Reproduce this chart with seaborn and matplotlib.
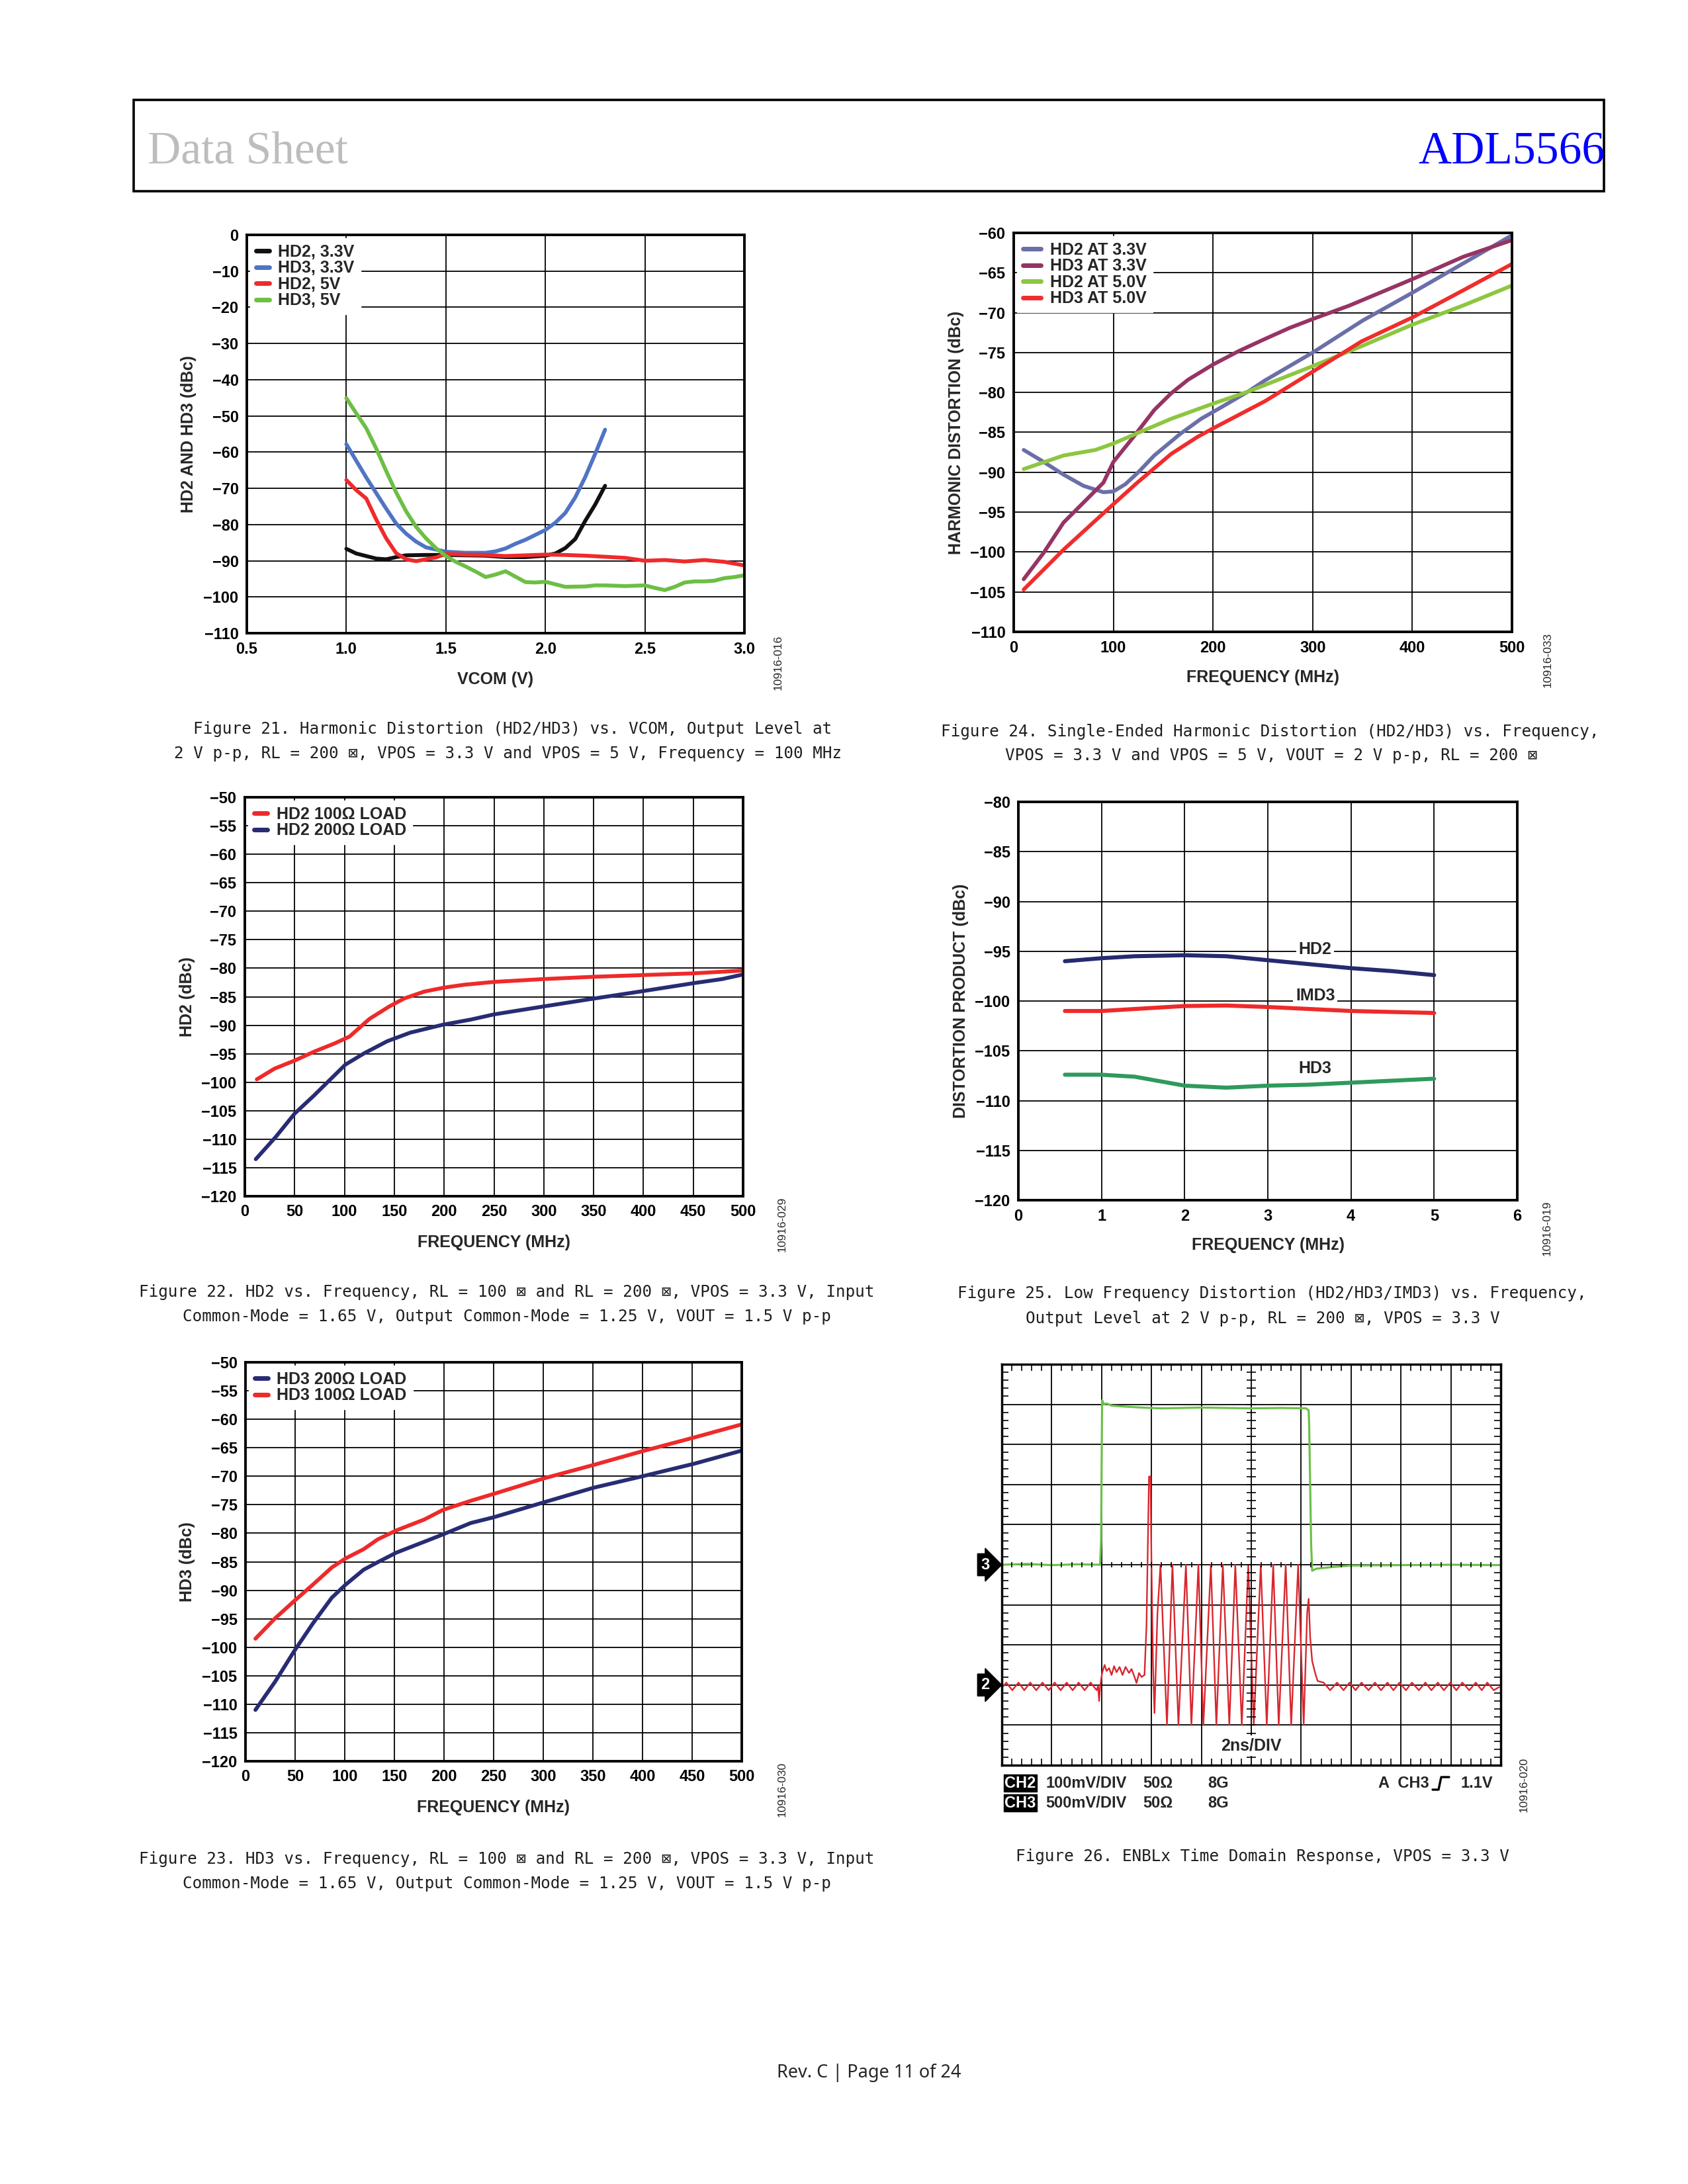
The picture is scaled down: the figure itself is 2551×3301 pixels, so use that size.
import numpy as np
import pandas as pd
import matplotlib
matplotlib.use("Agg")
import matplotlib.pyplot as plt
from matplotlib.patches import Rectangle
from matplotlib.lines import Line2D
import seaborn as sns

# ---------------- data ----------------
# Figure 21: HD2/HD3 vs VCOM
vcom_hd2_33_x = [1.0, 1.05, 1.1, 1.15, 1.2, 1.25, 1.3, 1.4, 1.5, 1.6, 1.7, 1.8, 1.9, 2.0, 2.05, 2.1, 2.15, 2.2, 2.25, 2.3]
vcom_hd2_33_y = [-86.7, -88.0, -88.7, -89.4, -89.6, -89.0, -88.5, -88.4, -88.4, -88.5, -88.6, -89.0, -89.0, -88.6, -88.0, -86.5, -84.0, -79.0, -74.5, -69.3]
vcom_hd3_33_x = [1.0, 1.1, 1.2, 1.25, 1.3, 1.35, 1.4, 1.5, 1.6, 1.7, 1.75, 1.8, 1.85, 1.9, 2.0, 2.05, 2.1, 2.15, 2.2, 2.25, 2.3]
vcom_hd3_33_y = [-57.8, -67.0, -75.6, -79.7, -82.5, -84.7, -86.3, -87.5, -87.8, -87.8, -87.4, -86.6, -85.3, -84.2, -81.5, -79.5, -76.8, -72.5, -66.9, -60.5, -53.8]
vcom_hd2_5_x = [1.0, 1.05, 1.1, 1.15, 1.2, 1.25, 1.3, 1.35, 1.4, 1.45, 1.5, 1.6, 1.7, 1.8, 1.9, 2.0, 2.1, 2.2, 2.3, 2.4, 2.5, 2.6, 2.7, 2.8, 2.9, 3.0]
vcom_hd2_5_y = [-67.7, -70.5, -72.8, -78.6, -83.8, -87.9, -89.6, -90.1, -89.6, -89.1, -88.1, -88.3, -88.4, -88.7, -88.5, -88.3, -88.4, -88.6, -88.9, -89.2, -90.0, -89.8, -90.2, -89.8, -90.3, -91.3]
vcom_hd3_5_x = [1.0, 1.05, 1.1, 1.15, 1.2, 1.25, 1.3, 1.35, 1.4, 1.45, 1.5, 1.55, 1.6, 1.65, 1.7, 1.75, 1.8, 1.85, 1.9, 1.95, 2.0, 2.05, 2.1, 2.2, 2.25, 2.3, 2.4, 2.5, 2.55, 2.6, 2.65, 2.7, 2.75, 2.8, 2.85, 2.9, 2.95, 3.0]
vcom_hd3_5_y = [-45.1, -49.3, -53.4, -59.0, -65.2, -71.1, -76.3, -80.6, -83.8, -86.5, -88.7, -90.3, -91.6, -93.0, -94.5, -93.8, -92.9, -94.4, -95.9, -96.0, -95.8, -96.5, -97.2, -97.1, -96.8, -96.8, -97.0, -96.8, -97.5, -98.1, -97.2, -96.0, -95.7, -95.7, -95.5, -94.8, -94.5, -94.0]
vcom_names = ["HD2, 3.3V", "HD3, 3.3V", "HD2, 5V", "HD3, 5V"]
vcom_colors = ["#111111", "#4f74c4", "#ee2b2b", "#6dbe45"]
vcom_ticks = [0.5, 1.0, 1.5, 2.0, 2.5, 3.0]
vcom_ticklabels = ["0.5", "1.0", "1.5", "2.0", "2.5", "3.0"]

# Figure 24: single-ended HD2/HD3 vs frequency
se_hd2_33_x = [10, 30, 50, 70, 90, 100, 112, 125, 141, 167, 188, 209, 235, 252, 300, 350, 400, 450, 500]
se_hd2_33_y = [-87.2, -88.7, -90.3, -91.7, -92.5, -92.4, -91.5, -90.0, -87.9, -85.2, -83.3, -81.8, -79.9, -78.5, -75.0, -71.0, -67.5, -63.9, -60.3]
se_hd3_33_x = [10, 30, 50, 90, 100, 120, 141, 158, 175, 200, 226, 252, 277, 300, 337, 400, 451, 500]
se_hd3_33_y = [-103.4, -100.1, -96.3, -91.3, -88.7, -85.6, -82.2, -80.1, -78.4, -76.5, -74.8, -73.3, -71.9, -70.8, -69.1, -65.8, -63.0, -60.9]
se_hd2_5_x = [10, 50, 82, 100, 124, 158, 200, 235, 300, 349, 400, 451, 500]
se_hd2_5_y = [-89.6, -87.9, -87.2, -86.4, -85.1, -83.3, -81.4, -79.9, -76.7, -74.2, -71.5, -69.1, -66.6]
se_hd3_5_x = [10, 50, 100, 124, 158, 184, 200, 252, 300, 349, 400, 451, 500]
se_hd3_5_y = [-104.7, -99.7, -94.0, -91.3, -87.7, -85.6, -84.5, -81.1, -77.4, -73.6, -70.6, -67.2, -63.9]
se_names = ["HD2 AT 3.3V", "HD3 AT 3.3V", "HD2 AT 5.0V", "HD3 AT 5.0V"]
se_colors = ["#6b6fa8", "#963463", "#8dc63f", "#ef2d2d"]

# Figure 22: HD2 vs frequency
hd2_100_x = [12, 30, 50, 70, 90, 105, 125, 145, 160, 180, 200, 220, 250, 300, 350, 400, 450, 500]
hd2_100_y = [-99.5, -97.6, -96.2, -94.6, -93.2, -92.0, -88.9, -86.7, -85.3, -84.1, -83.4, -82.9, -82.4, -81.9, -81.5, -81.2, -80.9, -80.4]
hd2_200_x = [11, 31, 50, 69, 87, 101, 120, 143, 166, 199, 227, 250, 300, 351, 400, 451, 479, 500]
hd2_200_y = [-113.5, -109.6, -105.5, -102.4, -99.3, -96.9, -94.9, -92.8, -91.3, -89.9, -89.0, -88.1, -86.7, -85.3, -84.0, -82.6, -81.9, -81.1]
hd2_names = ["HD2 100\u03a9 LOAD", "HD2 200\u03a9 LOAD"]

# Figure 23: HD3 vs frequency
hd3_200_x = [10, 30, 49, 68, 87, 101, 119, 133, 152, 180, 199, 227, 250, 300, 351, 400, 452, 500]
hd3_200_y = [-111.0, -106.0, -100.7, -95.8, -91.3, -89.0, -86.4, -85.1, -83.4, -81.5, -80.2, -78.2, -77.2, -74.6, -72.0, -70.0, -67.8, -65.5]
hd3_100_x = [10, 30, 49, 68, 87, 101, 119, 133, 152, 180, 199, 227, 250, 300, 351, 400, 452, 500]
hd3_100_y = [-98.5, -94.9, -91.9, -89.0, -86.0, -84.4, -82.8, -81.1, -79.5, -77.6, -75.9, -74.3, -73.1, -70.4, -68.0, -65.6, -63.2, -60.9]
hd3_names = ["HD3 200\u03a9 LOAD", "HD3 100\u03a9 LOAD"]
load_colors_22 = ["#ee2a2a", "#282c74"]
load_colors_23 = ["#282c74", "#ee2a2a"]
freq_ticks = [0, 50, 100, 150, 200, 250, 300, 350, 400, 450, 500]

# Figure 25: low frequency distortion
lf_x = [0.56, 1.0, 1.4, 2.0, 2.5, 3.0, 3.5, 4.0, 4.5, 5.0]
lf_hd2 = [-96.0, -95.7, -95.5, -95.4, -95.5, -95.9, -96.3, -96.7, -97.0, -97.4]
lf_imd3 = [-101.0, -101.0, -100.8, -100.5, -100.45, -100.6, -100.8, -101.0, -101.1, -101.2]
lf_hd3 = [-107.4, -107.4, -107.6, -108.5, -108.7, -108.5, -108.4, -108.2, -108.0, -107.8]
lf_names = ["HD2", "IMD3", "HD3"]
lf_colors = ["#262a70", "#ee2a2a", "#2e9a5c"]
lf_label_y = [-94.8, -99.5, -106.8]

# Figure 26: scope traces (divisions)
ch3_x = [0.03, 0.5, 1.0, 1.5, 1.97, 1.99, 2.01, 2.05, 2.1, 2.2, 2.4, 2.8, 3.2, 4.0, 5.0, 5.6, 6.1, 6.15, 6.16,
         6.2, 6.22, 6.3, 6.6, 7.0, 8.0, 9.0, 9.97]
ch3_y = [5.0, 5.02, 4.99, 5.01, 5.0, 5.6, 9.1, 9.0, 9.02, 8.97, 8.95, 8.92, 8.9, 8.92, 8.9, 8.91, 8.9, 8.85, 8.5,
         5.5, 4.85, 4.9, 4.94, 4.98, 4.99, 5.0, 4.99]
ch2_x = [0.03, 0.09, 0.21, 0.335, 0.45, 0.57, 0.69, 0.815, 0.94, 1.06, 1.18, 1.30, 1.42, 1.54, 1.66, 1.78, 1.90,
         1.93, 1.95, 1.97, 2.01, 2.06, 2.1, 2.15, 2.2, 2.25, 2.3, 2.36, 2.42, 2.48, 2.55, 2.6, 2.66, 2.7, 2.75,
         2.8, 2.86, 2.9, 2.92, 2.95, 2.98, 3.0, 3.03, 3.06, 3.12,
         3.18, 3.31, 3.42, 3.54, 3.69, 3.80, 3.94, 4.04, 4.19, 4.30, 4.43, 4.56, 4.68, 4.81, 4.94, 5.05,
         5.19, 5.31, 5.44, 5.55, 5.69, 5.80, 5.94, 6.05,
         6.12, 6.15, 6.18, 6.22, 6.28, 6.33,
         6.45, 6.58, 6.72, 6.85, 6.97, 7.09, 7.21, 7.35, 7.48, 7.60, 7.73, 7.85, 7.97, 8.10, 8.22, 8.36,
         8.49, 8.61, 8.74, 8.86, 8.99, 9.11, 9.23, 9.37, 9.50, 9.62, 9.73, 9.86, 9.97]
ch2_y = [1.97, 2.06, 1.87, 2.06, 1.87, 2.06, 1.87, 2.06, 1.87, 2.06, 1.87, 2.06, 1.87, 2.06, 1.87, 2.06, 1.87,
         1.98, 1.6, 1.95, 2.3, 2.5, 2.35, 2.42, 2.25, 2.47, 2.32, 2.45, 2.25, 2.45, 2.3, 2.4, 2.2, 2.05, 2.3,
         2.2, 2.25, 3.5, 5.0, 7.2, 7.2, 5.0, 2.5, 1.3, 3.8,
         5.0, 1.0, 5.0, 1.0, 5.0, 1.0, 5.0, 1.0, 5.0, 1.0, 5.0, 1.0, 5.0, 1.0, 5.0, 1.0,
         5.0, 1.0, 5.0, 1.0, 5.0, 1.0, 5.0, 1.0,
         3.8, 4.15, 3.2, 2.6, 2.3, 2.1,
         2.06, 1.87, 2.06, 1.87, 2.06, 1.87, 2.06, 1.87, 2.06, 1.87, 2.06, 1.87, 2.06, 1.87, 2.06, 1.87,
         2.06, 1.87, 2.06, 1.87, 2.06, 1.87, 2.06, 1.87, 2.06, 1.87, 2.06, 1.87, 1.95]

# ---------------- page ----------------
W, H = 2551, 3301
sns.set_theme(style="white")
plt.rcParams["font.family"] = ["Liberation Sans", "DejaVu Sans"]
plt.rcParams["axes.unicode_minus"] = True

fig = plt.figure(figsize=(W / 100, H / 100), dpi=100)
fig.patch.set_facecolor("white")


def rect(l, t, r, b):
    return [l / W, 1 - b / H, (r - l) / W, (b - t) / H]


def ptext(x, y, s, **kw):
    return fig.text(x / W, 1 - y / H, s, **kw)


def style(ax, xlim, xticks, ylim, yticks, xlabels=None):
    ax.set_xlim(xlim)
    ax.set_ylim(ylim)
    ax.set_xticks(xticks)
    if xlabels is not None:
        ax.set_xticklabels(xlabels)
    ax.set_yticks(yticks)
    ax.set_xlabel("")
    ax.set_ylabel("")
    ax.grid(True, color="black", lw=1.3)
    ax.set_axisbelow(True)
    ax.tick_params(length=0, pad=9, labelsize=17, colors="black")
    for lab in ax.get_xticklabels() + ax.get_yticklabels():
        lab.set_fontweight("bold")
    for s in ax.spines.values():
        s.set_visible(True)
        s.set_linewidth(2.8)
        s.set_color("black")


def long_df(xs, ys, names):
    parts = [pd.DataFrame({"x": x, "y": y, "trace": n}) for x, y, n in zip(xs, ys, names)]
    return pd.concat(parts, ignore_index=True)


def add_legend(ax, names, hl=0.8):
    leg = ax.legend(ax.lines[:len(names)], names, loc="upper left", frameon=True, fancybox=False,
                    framealpha=1, edgecolor="white", facecolor="white", borderaxespad=0.2,
                    borderpad=0.35, handlelength=hl, handletextpad=0.55, labelspacing=0.02,
                    prop=dict(weight="bold", size=18))
    for h in leg.legend_handles:
        h.set_linewidth(5)
    return leg


def axis_texts(box, xlabel, ylabel, ylab_x, xlab_y, code, code_xy):
    l, t, r, b = box
    ptext((l + r) / 2, xlab_y, xlabel, ha="center", va="center", size=18, weight="bold")
    ptext(ylab_x, (t + b) / 2, ylabel, ha="center", va="center", size=18, weight="bold", rotation=90)
    ptext(code_xy[0], code_xy[1], code, ha="center", va="center", size=12.5, rotation=90)


LW = 4.2

# header
fig.add_artist(Rectangle((202 / W, 1 - 289 / H), (2424 - 202) / W, (289 - 151) / H,
                         transform=fig.transFigure, fill=False, ec="black", lw=2.6))
ptext(223, 248, "Data Sheet", ha="left", va="baseline", size=50, color="#bdbdbd",
      family=["Liberation Serif", "DejaVu Serif"])
ptext(2425, 248, "ADL5566", ha="right", va="baseline", size=50, color="#0000ff",
      family=["Liberation Serif", "DejaVu Serif"])

# ---- Figure 21
box21 = (373, 355, 1125, 957)
ax = fig.add_axes(rect(*box21))
df = long_df([vcom_hd2_33_x, vcom_hd3_33_x, vcom_hd2_5_x, vcom_hd3_5_x],
             [vcom_hd2_33_y, vcom_hd3_33_y, vcom_hd2_5_y, vcom_hd3_5_y], vcom_names)
sns.lineplot(data=df, x="x", y="y", hue="trace", hue_order=vcom_names, palette=vcom_colors,
             sort=False, estimator=None, lw=LW, legend=False, ax=ax)
style(ax, (0.5, 3.0), vcom_ticks, (-110, 0), list(range(-110, 1, 10)), vcom_ticklabels)
add_legend(ax, vcom_names)
axis_texts(box21, "VCOM (V)", "HD2 AND HD3 (dBc)", 285, 1027, "10916-016", (1176, 1001))

# ---- Figure 24
box24 = (1532, 352, 2285, 955)
ax = fig.add_axes(rect(*box24))
df = long_df([se_hd2_33_x, se_hd3_33_x, se_hd2_5_x, se_hd3_5_x],
             [se_hd2_33_y, se_hd3_33_y, se_hd2_5_y, se_hd3_5_y], se_names)
sns.lineplot(data=df, x="x", y="y", hue="trace", hue_order=se_names, palette=se_colors,
             sort=False, estimator=None, lw=LW, legend=False, ax=ax)
style(ax, (0, 500), [0, 100, 200, 300, 400, 500], (-110, -60), list(range(-110, -59, 5)))
add_legend(ax, se_names, hl=1.1)
axis_texts(box24, "FREQUENCY (MHz)", "HARMONIC DISTORTION (dBc)", 1445, 1024, "10916-033", (2339, 997))

# ---- Figure 22
box22 = (370, 1205, 1123, 1808)
ax = fig.add_axes(rect(*box22))
df = long_df([hd2_100_x, hd2_200_x], [hd2_100_y, hd2_200_y], hd2_names)
sns.lineplot(data=df, x="x", y="y", hue="trace", hue_order=hd2_names, palette=load_colors_22,
             sort=False, estimator=None, lw=LW, legend=False, ax=ax)
style(ax, (0, 500), freq_ticks, (-120, -50), list(range(-120, -49, 5)))
add_legend(ax, hd2_names)
axis_texts(box22, "FREQUENCY (MHz)", "HD2 (dBc)", 283, 1878, "10916-029", (1182, 1850))

# ---- Figure 23
box23 = (371, 2059, 1121, 2662)
ax = fig.add_axes(rect(*box23))
df = long_df([hd3_200_x, hd3_100_x], [hd3_200_y, hd3_100_y], hd3_names)
sns.lineplot(data=df, x="x", y="y", hue="trace", hue_order=hd3_names, palette=load_colors_23,
             sort=False, estimator=None, lw=LW, legend=False, ax=ax)
style(ax, (0, 500), freq_ticks, (-120, -50), list(range(-120, -49, 5)))
add_legend(ax, hd3_names)
axis_texts(box23, "FREQUENCY (MHz)", "HD3 (dBc)", 283, 2732, "10916-030", (1182, 2704))

# ---- Figure 25
box25 = (1539, 1212, 2293, 1814)
ax = fig.add_axes(rect(*box25))
df = long_df([lf_x, lf_x, lf_x], [lf_hd2, lf_imd3, lf_hd3], lf_names)
sns.lineplot(data=df, x="x", y="y", hue="trace", hue_order=lf_names, palette=lf_colors,
             sort=False, estimator=None, lw=LW + 0.2, legend=False, ax=ax)
style(ax, (0, 6), list(range(0, 7)), (-120, -80), list(range(-120, -79, 5)))
for name, ly in zip(lf_names, lf_label_y):
    ax.text(3.57, ly, name, ha="center", va="center", size=18, weight="bold",
            bbox=dict(boxstyle="square,pad=0.15", fc="white", ec="none"))
axis_texts(box25, "FREQUENCY (MHz)", "DISTORTION PRODUCT (dBc)", 1452, 1882, "10916-019", (2338, 1856))

# ---- Figure 26 (scope)
box26 = (1514, 2062, 2268, 2668)
ax = fig.add_axes(rect(*box26))
sns.lineplot(x=ch3_x, y=ch3_y, sort=False, estimator=None, color="#6cc04a", lw=2.3, ax=ax)
sns.lineplot(x=ch2_x, y=ch2_y, sort=False, estimator=None, color="#d8262e", lw=1.7, ax=ax)
ax.set_xlim(0, 10)
ax.set_ylim(0, 10)
ax.set_xticks(range(11))
ax.set_yticks(range(11))
ax.set_xticklabels([])
ax.set_yticklabels([])
ax.set_xticks(np.arange(0, 10.01, 0.2), minor=True)
ax.set_yticks(np.arange(0, 10.01, 0.2), minor=True)
ax.tick_params(which="major", length=0)
ax.tick_params(which="minor", direction="in", length=7, width=1.2, color="black",
               top=True, right=True, bottom=True, left=True)
ax.grid(True, which="major", color="black", lw=1.3)
ax.set_axisbelow(True)
ticks = np.arange(0.2, 10, 0.2)
ax.vlines(ticks, 4.93, 5.07, color="black", lw=1.2)
ax.hlines(ticks, 4.91, 5.09, color="black", lw=1.2)
for s in ax.spines.values():
    s.set_visible(True)
    s.set_linewidth(2.5)
    s.set_color("black")
for lvl, lab in [(5.0, "3"), (2.0, "2")]:
    ax.text(-0.33, lvl, lab, ha="center", va="center", color="white", weight="bold", size=17,
            bbox=dict(boxstyle="rarrow,pad=0.22", fc="black", ec="black"), clip_on=False)
ax.text(5, 0.49, "2ns/DIV", ha="center", va="center", size=18, weight="bold",
        bbox=dict(boxstyle="square,pad=0.15", fc="white", ec="none"))

for yy, ch, vd in [(2695, "CH2", "100mV/DIV"), (2725, "CH3", "500mV/DIV")]:
    ptext(1518, yy, ch, ha="left", va="center", size=17, weight="bold", color="white",
          bbox=dict(boxstyle="square,pad=0.06", fc="black", ec="black"))
    ptext(1580, yy, vd, ha="left", va="center", size=17, weight="bold")
    ptext(1727, yy, "50\u03a9", ha="left", va="center", size=17, weight="bold")
    ptext(1825, yy, "8G", ha="left", va="center", size=17, weight="bold")
ptext(2160, 2695, "A  CH3", ha="right", va="center", size=17, weight="bold")
ptext(2256, 2695, "1.1V", ha="right", va="center", size=17, weight="bold")
# rising-edge trigger symbol (no installed font has it)
fig.add_artist(Line2D(np.array([2165, 2174, 2178, 2190]) / W,
                      1 - np.array([2705, 2705, 2686, 2686]) / H,
                      transform=fig.transFigure, color="black", lw=2.4))
ptext(2303, 2697, "10916-020", ha="center", va="center", size=12.5, rotation=90)

# ---- captions
cap_font = dict(family=["DejaVu Sans Mono"], size=17.5, color="#1e1e1e", va="center")
captions = [
    (775, 1102, "center", "Figure 21. Harmonic Distortion (HD2/HD3) vs. VCOM, Output Level at"),
    (768, 1139, "center", "2 V p-p, RL = 200 \u22a0, VPOS = 3.3 V and VPOS = 5 V, Frequency = 100 MHz"),
    (1422, 1106, "left", "Figure 24. Single-Ended Harmonic Distortion (HD2/HD3) vs. Frequency,"),
    (1921, 1142, "center", "VPOS = 3.3 V and VPOS = 5 V, VOUT = 2 V p-p, RL = 200 \u22a0"),
    (766, 1953, "center", "Figure 22. HD2 vs. Frequency, RL = 100 \u22a0 and RL = 200 \u22a0, VPOS = 3.3 V, Input"),
    (766, 1990, "center", "Common-Mode = 1.65 V, Output Common-Mode = 1.25 V, VOUT = 1.5 V p-p"),
    (1922, 1955, "center", "Figure 25. Low Frequency Distortion (HD2/HD3/IMD3) vs. Frequency,"),
    (1908, 1993, "center", "Output Level at 2 V p-p, RL = 200 \u22a0, VPOS = 3.3 V"),
    (766, 2810, "center", "Figure 23. HD3 vs. Frequency, RL = 100 \u22a0 and RL = 200 \u22a0, VPOS = 3.3 V, Input"),
    (766, 2847, "center", "Common-Mode = 1.65 V, Output Common-Mode = 1.25 V, VOUT = 1.5 V p-p"),
    (1908, 2806, "center", "Figure 26. ENBLx Time Domain Response, VPOS = 3.3 V"),
]
for x, y, ha, s in captions:
    ptext(x, y, s, ha=ha, **cap_font)

# footer
ptext(1313, 3133, "Rev. C | Page 11 of 24", ha="center", va="center", size=19.5,
      family=["Noto Sans", "DejaVu Sans"])

fig.savefig("out.png", dpi=100, facecolor="white")
